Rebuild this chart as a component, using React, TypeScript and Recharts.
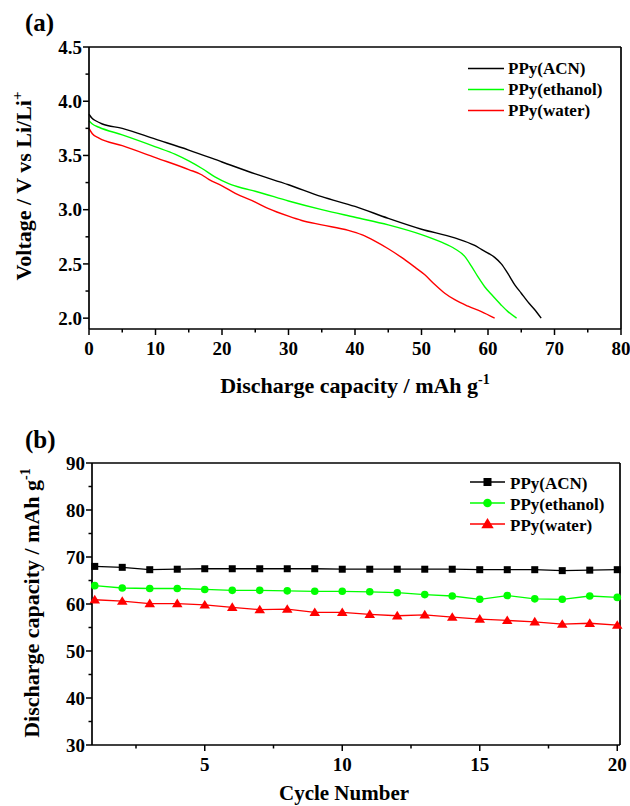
import { Label, Legend, Line, LineChart, XAxis, YAxis } from 'recharts'

const FONT = 'Liberation Serif, Times New Roman, Times, serif'
const GREEN = '#00ff00'
const RED = '#ff0000'
const BLACK = '#000000'

// (a) discharge curves, capacity in mAh/g and voltage in V
const acnCapacity = [0, 0.5, 1, 2, 5, 10, 15, 20, 25, 30, 35, 40, 45, 50, 55, 58, 59, 60, 61, 62, 63, 64, 65, 66, 67, 68]
const acnVoltage = [3.88, 3.84, 3.82, 3.79, 3.75, 3.65, 3.55, 3.44, 3.33, 3.23, 3.12, 3.03, 2.92, 2.82, 2.74, 2.67, 2.635, 2.6, 2.56, 2.5, 2.41, 2.31, 2.23, 2.15, 2.08, 2.0]
const ethanolCapacity = [0, 0.5, 1.5, 5, 10, 13, 15, 17, 19, 21, 23, 25, 30, 35, 40, 45, 50, 53, 55, 56.5, 57.5, 58.5, 59.5, 60.5, 62, 63, 64.3]
const ethanolVoltage = [3.82, 3.79, 3.76, 3.69, 3.58, 3.51, 3.45, 3.38, 3.3, 3.24, 3.2, 3.17, 3.08, 3.0, 2.93, 2.86, 2.77, 2.7, 2.64, 2.57, 2.48, 2.38, 2.29, 2.22, 2.12, 2.06, 2.0]
const waterCapacity = [0, 0.5, 1.5, 5, 10, 15, 17, 18, 20, 22, 25, 27, 30, 32, 35, 39, 41, 43, 45, 47, 49, 50.5, 52, 53.5, 55, 57, 59, 61]
const waterVoltage = [3.75, 3.7, 3.66, 3.59, 3.48, 3.37, 3.32, 3.28, 3.22, 3.15, 3.07, 3.01, 2.94, 2.9, 2.86, 2.81, 2.77, 2.71, 2.64, 2.56, 2.47, 2.4, 2.31, 2.23, 2.17, 2.11, 2.06, 2.0]

// (b) cycling, discharge capacity in mAh/g
const cycles = [1, 2, 3, 4, 5, 6, 7, 8, 9, 10, 11, 12, 13, 14, 15, 16, 17, 18, 19, 20]
const acnCycling = [68.0, 67.8, 67.3, 67.4, 67.5, 67.5, 67.5, 67.5, 67.5, 67.4, 67.4, 67.4, 67.4, 67.4, 67.3, 67.3, 67.3, 67.1, 67.2, 67.3]
const ethanolCycling = [63.9, 63.4, 63.3, 63.3, 63.1, 62.9, 62.9, 62.8, 62.7, 62.7, 62.6, 62.4, 62.0, 61.7, 61.0, 61.8, 61.1, 61.0, 61.7, 61.4]
const waterCycling = [60.9, 60.6, 60.1, 60.1, 59.8, 59.3, 58.8, 58.9, 58.2, 58.2, 57.8, 57.5, 57.7, 57.2, 56.8, 56.5, 56.2, 55.7, 55.9, 55.5]

const seriesNames = ['PPy(ACN)', 'PPy(ethanol)', 'PPy(water)']
const seriesColors = [BLACK, GREEN, RED]

const voltageMajor = [2.0, 2.5, 3.0, 3.5, 4.0, 4.5]
const voltageMinor = [2.25, 2.75, 3.25, 3.75, 4.25]
const capacityMajor = [0, 10, 20, 30, 40, 50, 60, 70, 80]
const capacityMinor = [5, 15, 25, 35, 45, 55, 65, 75]
const cycleCapMajor = [30, 40, 50, 60, 70, 80, 90]
const cycleCapMinor = [35, 45, 55, 65, 75, 85]
const cycleMajor = [5, 10, 15, 20]
const cycleMinor = [2.5, 7.5, 12.5, 17.5]

const zip = (xs: number[], ys: number[]) => xs.map((x, i) => ({ x, y: ys[i] }))
const acnCurve = zip(acnCapacity, acnVoltage)
const ethanolCurve = zip(ethanolCapacity, ethanolVoltage)
const waterCurve = zip(waterCapacity, waterVoltage)
const cyclingRows = cycles.map((c, i) => ({
  cycle: c,
  acn: acnCycling[i],
  ethanol: ethanolCycling[i],
  water: waterCycling[i],
}))

const sortTicks = (a: number[], b: number[]) => [...a, ...b].sort((p, q) => p - q)
const isMajor = (majors: number[], v: number) => majors.some((m) => Math.abs(m - v) < 1e-6)

const axisStyle = { stroke: BLACK, strokeWidth: 1.7 }
const serif = (size: number) => ({ fontFamily: FONT, fontWeight: 700, fontSize: size })
const tickText = { style: serif(19), fill: BLACK }
const titleText = { style: serif(22), fill: BLACK }

function LeftTick(props: any) {
  const { x, y, payload, majors, fmt } = props
  const major = isMajor(majors, payload.value)
  return (
    <g>
      <line x1={x} x2={x - (major ? 6 : 3.5)} y1={y} y2={y} stroke={BLACK} strokeWidth={1.5} />
      {major && (
        <text x={x - 7} y={y} dy="0.35em" textAnchor="end" {...tickText}>
          {fmt(payload.value)}
        </text>
      )}
    </g>
  )
}

function BottomTick(props: any) {
  const { x, y, payload, majors } = props
  const major = isMajor(majors, payload.value)
  return (
    <g>
      <line x1={x} x2={x} y1={y} y2={y + (major ? 6 : 3.5)} stroke={BLACK} strokeWidth={1.5} />
      {major && (
        <text x={x} y={y + 26} textAnchor="middle" {...tickText}>
          {payload.value}
        </text>
      )}
    </g>
  )
}

function Marker({ kind, cx, cy, s }: { kind: number; cx: number; cy: number; s: number }) {
  const color = seriesColors[kind]
  if (kind === 0) return <rect x={cx - s / 2} y={cy - s / 2} width={s} height={s} fill={color} />
  if (kind === 1) return <circle cx={cx} cy={cy} r={s / 2 + 0.3} fill={color} />
  const h = s * 0.95
  return (
    <polygon
      points={`${cx},${cy - h * 0.62} ${cx + s * 0.62},${cy + h * 0.45} ${cx - s * 0.62},${cy + h * 0.45}`}
      fill={color}
    />
  )
}

function CurveLegend() {
  return (
    <svg width={165} height={70}>
      {seriesNames.map((name, i) => (
        <g key={name}>
          <line x1={3} x2={39} y1={13.5 + i * 21} y2={13.5 + i * 21} stroke={seriesColors[i]} strokeWidth={1.5} />
          <text x={43} y={19 + i * 21} style={serif(17)} fill={BLACK}>
            {name}
          </text>
        </g>
      ))}
    </svg>
  )
}

function CycleLegend() {
  return (
    <svg width={165} height={70}>
      {seriesNames.map((name, i) => (
        <g key={name}>
          <line x1={5} x2={40} y1={12 + i * 21} y2={12 + i * 21} stroke={seriesColors[i]} strokeWidth={1.5} />
          <Marker kind={i} cx={22.5} cy={12 + i * 21} s={i === 2 ? 10 : 8} />
          <text x={45} y={18.5 + i * 21} style={serif(17)} fill={BLACK}>
            {name}
          </text>
        </g>
      ))}
    </svg>
  )
}

function DischargeCurves() {
  return (
    <LineChart width={630} height={400} margin={{ top: 46, right: 8, bottom: 31, left: 29 }}>
      <XAxis
        type="number"
        dataKey="x"
        domain={[0, 80]}
        ticks={sortTicks(capacityMajor, capacityMinor)}
        interval={0}
        height={40}
        tickSize={0}
        tickMargin={0}
        tickLine={false}
        axisLine={axisStyle}
        tick={(p: any) => <BottomTick {...p} majors={capacityMajor} />}
      >
        <Label
          content={() => (
            <text x={355} y={393} textAnchor="middle" {...titleText}>
              Discharge capacity / mAh g
              <tspan dy={-9} style={serif(14)}>
                -1
              </tspan>
            </text>
          )}
        />
      </XAxis>
      <YAxis
        type="number"
        domain={[1.9, 4.5]}
        ticks={sortTicks(voltageMajor, voltageMinor)}
        interval={0}
        width={60}
        tickSize={0}
        tickMargin={0}
        tickLine={false}
        axisLine={axisStyle}
        tick={(p: any) => <LeftTick {...p} majors={voltageMajor} fmt={(v: number) => v.toFixed(1)} />}
      >
        <Label
          content={() => (
            <text transform="translate(31,186) rotate(-90)" textAnchor="middle" {...titleText}>
              Voltage / V vs Li/Li
              <tspan dy={-9} style={serif(15)}>
                +
              </tspan>
            </text>
          )}
        />
        <Label
          content={() => (
            <text x={25} y={31} style={serif(25)} fill={BLACK}>
              (a)
            </text>
          )}
        />
      </YAxis>
      <XAxis xAxisId="top" orientation="top" type="number" domain={[0, 1]} height={1} tick={false} tickLine={false} axisLine={axisStyle} />
      <YAxis yAxisId="right" orientation="right" type="number" domain={[0, 1]} width={1} tick={false} tickLine={false} axisLine={axisStyle} />
      <Legend
        layout="vertical"
        align="center"
        verticalAlign="middle"
        wrapperStyle={{ left: 465, top: 55, width: 165 }}
        content={() => <CurveLegend />}
      />
      <Line data={acnCurve} dataKey="y" type="monotone" stroke={BLACK} strokeWidth={1.4} dot={false} isAnimationActive={false} />
      <Line data={ethanolCurve} dataKey="y" type="monotone" stroke={GREEN} strokeWidth={1.4} dot={false} isAnimationActive={false} />
      <Line data={waterCurve} dataKey="y" type="monotone" stroke={RED} strokeWidth={1.4} dot={false} isAnimationActive={false} />
    </LineChart>
  )
}

function CyclingChart() {
  const keys = ['acn', 'ethanol', 'water']
  return (
    <LineChart width={630} height={406} data={cyclingRows} margin={{ top: 62, right: 9, bottom: 21, left: 32 }}>
      <XAxis
        type="number"
        dataKey="cycle"
        domain={[0.9, 20.1]}
        ticks={sortTicks(cycleMajor, cycleMinor)}
        interval={0}
        height={40}
        tickSize={0}
        tickMargin={0}
        tickLine={false}
        axisLine={axisStyle}
        tick={(p: any) => <BottomTick {...p} majors={cycleMajor} />}
      >
        <Label
          content={() => (
            <text x={344} y={400} textAnchor="middle" style={serif(21)} fill={BLACK}>
              Cycle Number
            </text>
          )}
        />
      </XAxis>
      <YAxis
        type="number"
        domain={[30, 90]}
        ticks={sortTicks(cycleCapMajor, cycleCapMinor)}
        interval={0}
        width={60}
        tickSize={0}
        tickMargin={0}
        tickLine={false}
        axisLine={axisStyle}
        tick={(p: any) => <LeftTick {...p} majors={cycleCapMajor} fmt={(v: number) => String(v)} />}
      >
        <Label
          content={() => (
            <text transform="translate(39,203) rotate(-90)" textAnchor="middle" {...titleText}>
              Discharge capacity / mAh g
              <tspan dy={-9} style={serif(14)}>
                -1
              </tspan>
            </text>
          )}
        />
        <Label
          content={() => (
            <text x={25} y={48} style={serif(25)} fill={BLACK}>
              (b)
            </text>
          )}
        />
      </YAxis>
      <XAxis xAxisId="top" orientation="top" type="number" domain={[0, 1]} height={1} tick={false} tickLine={false} axisLine={axisStyle} />
      <YAxis yAxisId="right" orientation="right" type="number" domain={[0, 1]} width={1} tick={false} tickLine={false} axisLine={axisStyle} />
      <Legend
        layout="vertical"
        align="center"
        verticalAlign="middle"
        wrapperStyle={{ left: 465, top: 70, width: 165 }}
        content={() => <CycleLegend />}
      />
      {keys.map((k, i) => (
        <Line
          key={k}
          dataKey={k}
          type="linear"
          stroke={seriesColors[i]}
          strokeWidth={1.3}
          isAnimationActive={false}
          dot={(p: any) => <Marker key={`${k}-${p.index}`} kind={i} cx={p.cx} cy={p.cy} s={i === 2 ? 8.5 : 7} />}
        />
      ))}
    </LineChart>
  )
}

export default function App() {
  return (
    <div style={{ position: 'absolute', left: 0, top: 0, width: 630, height: 806, background: '#fff' }}>
      <div style={{ position: 'absolute', left: 0, top: 0 }}>
        <DischargeCurves />
      </div>
      <div style={{ position: 'absolute', left: 0, top: 400 }}>
        <CyclingChart />
      </div>
    </div>
  )
}
